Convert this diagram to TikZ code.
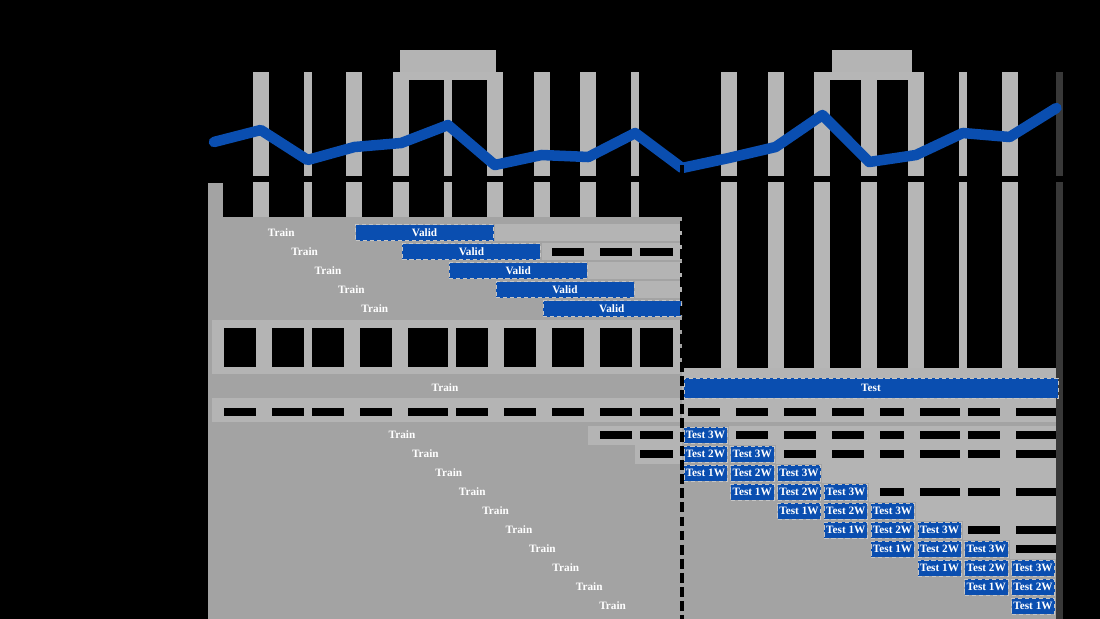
\documentclass[tikz,border=0pt]{standalone}
\usepackage{fontspec}
\setmainfont{Liberation Serif}
\definecolor{tsblue}{RGB}{10,78,176}
\definecolor{traingray}{RGB}{163,163,163}
\definecolor{cellgray}{RGB}{180,180,180}
\definecolor{bargray}{RGB}{182,182,182}
\definecolor{edgegray}{RGB}{56,56,56}
\usetikzlibrary{positioning}

\begin{document}
\begin{tikzpicture}[x=0.025cm,y=-0.025cm,
  weekbar/.style={fill=bargray},
  lightcell/.style={fill=cellgray},
  blank/.style={fill=black},
  wkbox/.style={draw=gray!45,densely dashed,line width=0.3pt,fill=tsblue,text=white,
    font=\fontsize{8}{9}\selectfont\bfseries,inner sep=0pt,minimum height=0.4cm},
  wklabel/.style={text=white,font=\fontsize{8}{9}\selectfont\bfseries},
  tsline/.style={tsblue,line width=7.5pt,line join=round,line cap=round}
]
  % canvas
  \fill[black] (0,0) rectangle (1100,619);
  \useasboundingbox (0,0) rectangle (1100,619);
  % week bars
  \foreach \i/\w in {1/16,2/8,3/16,4/16,5/8,6/16,7/16,8/16,9/8,11/16,12/16,13/16,14/16,15/16,16/8,17/16}{
    \fill[weekbar] ({214+46.8*\i-\w/2},72) rectangle ({214+46.8*\i+\w/2},176);
    \fill[weekbar] ({214+46.8*\i-\w/2},182) rectangle ({214+46.8*\i+\w/2},619);
  }
  \fill[edgegray] (1056,72) rectangle (1063,176);
  \fill[edgegray] (1056,182) rectangle (1063,619);
  % holiday frames
  \fill[weekbar] (393,72) rectangle (503,80);
  \fill[lightcell] (400,50) rectangle (496,72);
  \fill[weekbar] (814,72) rectangle (924,80);
  \fill[lightcell] (832,50) rectangle (912,72);
  % train panel (left)
  \fill[traingray] (208,217) rectangle (682,619);
  \fill[traingray] (208,183) rectangle (223,217);
  % validation rows
  \foreach \r in {0,...,4}{
    \fill[lightcell] ({214+46.8*(6+\r)},{224+19*\r}) rectangle (682,{241+19*\r});
    \node[wkbox,minimum width=3.45cm] (v\r) at ({214+46.8*(4.5+\r)},{232.5+19*\r}) {Valid};
    \node[wklabel] (tv\r) at ({(208+214+46.8*(3+\r))/2},{232.5+19*\r}) {Train};
  }
  \foreach \a/\b in {552/584,600/632,640/673}
    \fill[blank] (\a,248) rectangle (\b,256);
  % empty weeks between the blocks
  \fill[lightcell] (212,320) rectangle (680,374);
  \fill[lightcell] (212,398) rectangle (680,422);
  \fill[lightcell] (682,368) rectangle (1056,422);
  \foreach \a/\b in {224/256,272/304,312/344,360/392,408/448,456/488,504/536,552/584,600/632,640/673}{
    \fill[blank] (\a,328) rectangle (\b,367);
    \fill[blank] (\a,408) rectangle (\b,416);
  }
  \foreach \a/\b in {688/720,736/768,784/816,832/864,880/904,920/960,968/1000,1016/1056}
    \fill[blank] (\a,408) rectangle (\b,416);
  % full train / test row
  \node[wklabel] (tall) at (445,388) {Train};
  \node[wkbox,minimum width=9.35cm,minimum height=0.5cm] (tst) at (871,388) {Test};
  % staircase rows
  \fill[traingray] (682,422) rectangle (1056,619);
  \fill[lightcell] (588,425.5) rectangle (682,444.5);
  \fill[lightcell] (635,444.5) rectangle (682,463.5);
  \foreach \a/\b in {600/632,640/673}
    \fill[blank] (\a,431) rectangle (\b,439);
  \fill[blank] (640,450) rectangle (673,458);
  \foreach \k in {0,...,6}
    \fill[lightcell] ({214+46.8*(11+\k)},{425.5+19*\k}) rectangle (1056,{444.5+19*\k});
  \foreach \k in {0,1,3,5,6}{
    \foreach \j/\a/\b in {1/736/768,2/784/816,3/832/864,4/880/904,5/920/960,6/968/1000,7/1016/1056}{
      \ifnum\j>\k
        \fill[blank] (\a,{431+19*\k}) rectangle (\b,{439+19*\k});
      \fi
    }
  }
  \foreach \k in {0,...,9}
    \node[wklabel] (tr\k) at ({402+23.4*\k},{435+19*\k}) {Train};
  \foreach \j in {0,...,7}{
    \foreach \n in {1,2,3}{
      \node[wkbox,minimum width=1.075cm] (t\j\n) at ({705.4+46.8*\j},{435+19*(\j+3-\n)}) {Test \n W};
    }
  }
  % weekly series
  \foreach \i/\y in {0/142,1/130,2/160,3/147,4/143,5/125,6/165,7/155,8/157,9/133,
    10/168,11/158,12/147,13/115,14/162,15/155,16/133,17/137,18/108}
    \coordinate (p\i) at ({214+46.8*\i},\y);
  \draw[tsline] (p0) \foreach \i in {1,...,18}{ -- (p\i)};
  % cut-off
  \coordinate (cuttop) at (682,165);
  \coordinate (cutbot) at (682,619);
  \draw[black,line width=2.5pt,dash pattern=on 7pt off 3pt] (cuttop) -- (cutbot);
\end{tikzpicture}
\end{document}
